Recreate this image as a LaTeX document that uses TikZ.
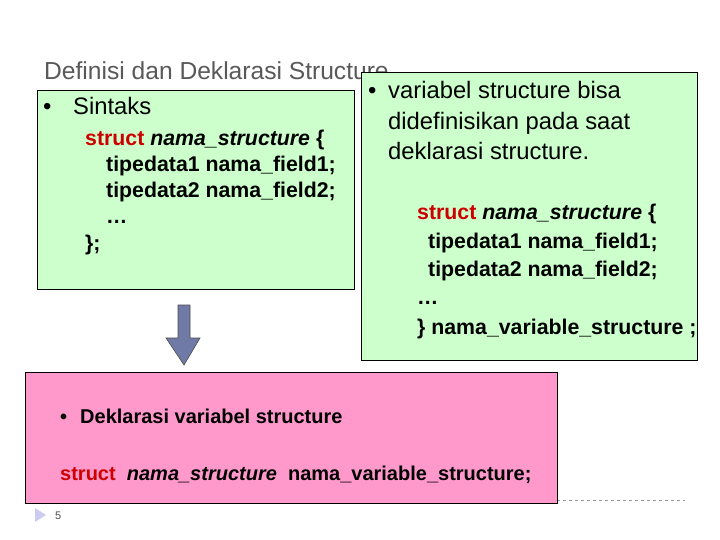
\documentclass[tikz,border=0pt]{standalone}
\usepackage{fontspec}
\setmainfont{Liberation Sans}
\begin{document}
\begin{tikzpicture}[x=1pt,y=-1pt,
  box/.style={draw=black,line width=0.8pt},
  txt/.style={anchor=base west,inner sep=0pt,font=\fontsize{23.8}{26}\selectfont},
  code/.style={anchor=base west,inner sep=0pt,font=\fontsize{21.3}{24}\selectfont\bfseries},
  pcode/.style={anchor=base west,inner sep=0pt,font=\fontsize{20}{24}\selectfont\bfseries}]
\definecolor{gr}{HTML}{CCFFCC}
\definecolor{pk}{HTML}{FF99CC}
\definecolor{ar}{HTML}{6F7BA6}
\definecolor{rd}{HTML}{CC0000}
\useasboundingbox (0,0) rectangle (720,540);
\fill[white] (0,0) rectangle (720,540);
\node[txt,text=black!65,font=\fontsize{24.6}{28}\selectfont] (title) at (44,80) {Definisi dan Deklarasi Structure};
% left box
\draw[box,fill=gr] (37,90) rectangle (354,289);
\node[txt] (b1) at (43,115) {•};
\node[txt] (s1) at (73,115) {Sintaks};
\node[code] (l1) at (85,146) {\textcolor{rd}{struct} \textit{nama\_structure} \{};
\node[code] (l2) at (106,172) {tipedata1 nama\_field1;};
\node[code] (l3) at (106,198) {tipedata2 nama\_field2;};
\node[code] (l4) at (106,224) {…};
\node[code] (l5) at (85,250) {\};};
% right box
\draw[box,fill=gr] (361,72) rectangle (697,360);
\node[txt] (b2) at (368,99) {•};
\node[txt] (r1) at (388,99) {variabel structure bisa};
\node[txt] (r2) at (388,130) {didefinisikan pada saat};
\node[txt] (r3) at (388,160) {deklarasi structure.};
\node[code] (c1) at (417,220) {\textcolor{rd}{struct} \textit{nama\_structure} \{};
\node[code] (c2) at (428,248) {tipedata1 nama\_field1;};
\node[code] (c3) at (428,276) {tipedata2 nama\_field2;};
\node[code] (c4) at (417,304) {…};
\node[code] (c5) at (417,334) {\} nama\_variable\_structure ;};
% arrow
\draw[fill=ar,draw=black!70,line width=0.6pt] (178,305) -- (190,305) -- (190,338) -- (200,338) -- (184,365) -- (166,338) -- (178,338) -- cycle;
% dashed line
\draw[black!40,dashed,line width=0.6pt] (557,500) -- (685,500);
% pink box
\draw[box,fill=pk] (25,372) rectangle (557,503);
\node[pcode] (b3) at (60,423) {•};
\node[pcode] (p1) at (80,423) {Deklarasi variabel structure};
\node[pcode] (p2) at (60,480) {\textcolor{rd}{struct} \ \textit{nama\_structure} \ nama\_variable\_structure;};
% footer
\fill[black!25!blue!20!white] (35,508) -- (46,515) -- (35,522) -- cycle;
\node[anchor=base west,inner sep=0pt,font=\fontsize{11}{12}\selectfont,text=black!70] (pg) at (55,519) {5};
\end{tikzpicture}
\end{document}
